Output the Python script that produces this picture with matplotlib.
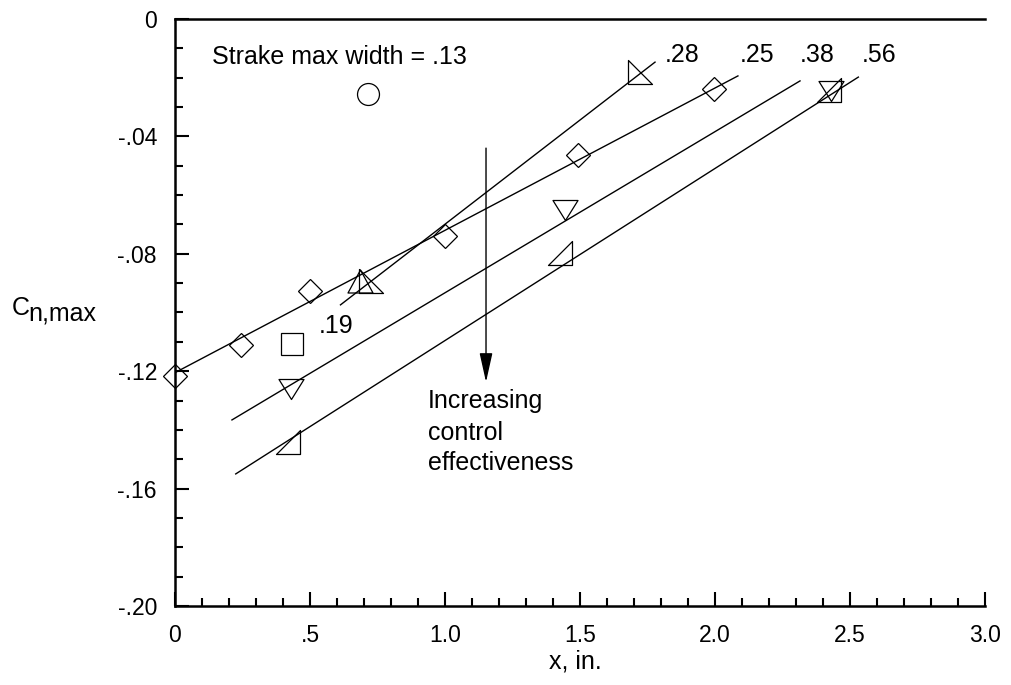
import matplotlib
matplotlib.use('Agg')

import matplotlib.pyplot as plt
from matplotlib.path import Path
from matplotlib.ticker import MultipleLocator, FixedLocator

plt.rcParams['font.family'] = ['Liberation Sans', 'DejaVu Sans']

# data (x in inches, Cn,max)
x_13 = [0.715]
y_13 = [-0.0256]

x_19 = [0.433]
y_19 = [-0.1106]

x_25 = [0.0, 0.243, 0.499, 1.0, 1.493, 1.998]
y_25 = [-0.1218, -0.1112, -0.0928, -0.0738, -0.0463, -0.0239]

x_28 = [0.726, 1.722]
y_28 = [-0.0894, -0.0181]
x_28b = [0.687]
y_28b = [-0.0894]

x_38 = [0.43, 1.444, 2.43]
y_38 = [-0.1262, -0.0651, -0.0247]

x_56 = [0.42, 1.426, 2.424]
y_56 = [-0.1441, -0.0799, -0.0242]

# fairing lines (end points)
fit_25_x = [0.0, 2.085]
fit_25_y = [-0.1205, -0.0194]
fit_28_x = [0.613, 1.778]
fit_28_y = [-0.0974, -0.0147]
fit_38_x = [0.211, 2.315]
fit_38_y = [-0.1366, -0.0211]
fit_56_x = [0.225, 2.531]
fit_56_y = [-0.155, -0.0198]

width_labels = ['.28', '.25', '.38', '.56']
width_label_x = [1.815, 2.093, 2.315, 2.543]
width_label_y = -0.01455

xticks = [0, 0.5, 1.0, 1.5, 2.0, 2.5, 3.0]
xticklabels = ['0', '.5', '1.0', '1.5', '2.0', '2.5', '3.0']
yticks = [-0.20, -0.16, -0.12, -0.08, -0.04, 0]
yticklabels = ['-.20', '-.16', '-.12', '-.08', '-.04', '0']


def marker(verts):
    return Path(verts + [verts[0]], closed=True)


tri_down = marker([(-1, 0.8), (1, 0.8), (0, -0.8)])
tri_up = marker([(-1, -0.92), (1, -0.92), (0, 0.92)])
tri_br = marker([(-1, -1), (1, -1), (1, 1)])
tri_bl = marker([(-1, 1), (-1, -1), (1, -1)])

fig = plt.figure(figsize=(10.12, 6.85), dpi=100)
ax = fig.add_axes([0.1729, 0.1153, 0.8004, 0.857])

line_kw = dict(color='black', lw=1.0)
for fx, fy in [(fit_25_x, fit_25_y), (fit_28_x, fit_28_y),
               (fit_38_x, fit_38_y), (fit_56_x, fit_56_y)]:
    ax.plot(fx, fy, **line_kw)

mk = dict(ls='none', mfc='none', mec='black', mew=0.9, clip_on=False)
ax.plot(x_13, y_13, marker='o', ms=15.8, **mk)
ax.plot(x_19, y_19, marker='s', ms=15.5, **mk)
ax.plot(x_25, y_25, marker='D', ms=12.2, **mk)
ax.plot(x_28, y_28, marker=tri_bl, ms=17, **mk)
ax.plot(x_28b, y_28b, marker=tri_up, ms=18, **mk)
ax.plot(x_38, y_38, marker=tri_down, ms=18, **mk)
ax.plot(x_56, y_56, marker=tri_br, ms=17, **mk)

# arrow
ax.annotate('', xy=(1.152, -0.1237), xytext=(1.152, -0.044),
            arrowprops=dict(arrowstyle='-|>,head_length=0.9,head_width=0.2',
                            color='black', lw=1.0, mutation_scale=20,
                            shrinkA=0, shrinkB=0))

fs = 18
ax.text(0.137, -0.0153, 'Strake max width = .13', fontsize=fs)
for lab, lx in zip(width_labels, width_label_x):
    ax.text(lx, width_label_y, lab, fontsize=fs)
ax.text(0.531, -0.1071, '.19', fontsize=fs)
for txt, ty in zip(['Increasing', 'control', 'effectiveness'],
                   [-0.1325, -0.1434, -0.1537]):
    ax.text(0.937, ty, txt, fontsize=fs)

ax.set_xlim(0, 3.0)
ax.set_ylim(-0.20, 0)
ax.xaxis.set_major_locator(FixedLocator(xticks))
ax.set_xticklabels(xticklabels)
ax.yaxis.set_major_locator(FixedLocator(yticks))
ax.set_yticklabels(yticklabels)
ax.xaxis.set_minor_locator(MultipleLocator(0.1))
ax.yaxis.set_minor_locator(MultipleLocator(0.01))

ax.tick_params(which='both', direction='in', width=1.5, top=False, right=False,
               labelsize=16.5, pad=13)
ax.tick_params(which='major', length=10)
ax.tick_params(which='minor', length=6)

ax.spines['right'].set_visible(False)
for s in ['left', 'bottom', 'top']:
    ax.spines[s].set_linewidth(1.8)

# axis titles
W, H = 1012., 685.
fig.text(575 / W, 1 - 669 / H, 'x, in.', fontsize=fs, ha='center', va='baseline')
fig.text(12 / W, 1 - 315 / H, 'C', fontsize=fs, va='baseline')
fig.text(28 / W, 1 - 321 / H, 'n,max', fontsize=fs, va='baseline')

fig.savefig('out.png', dpi=100)
